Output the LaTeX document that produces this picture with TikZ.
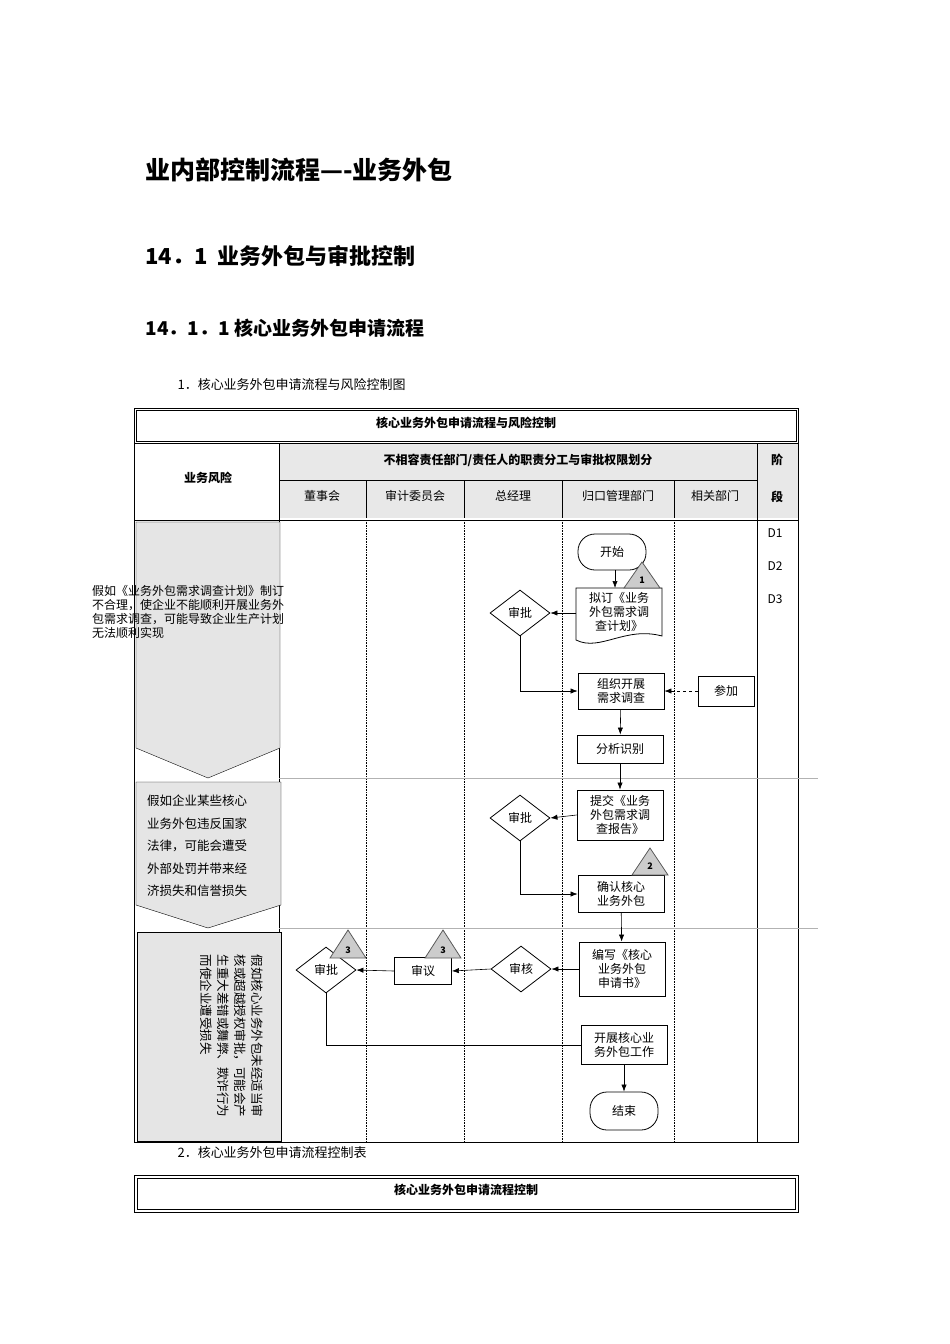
\documentclass[tikz,border=0pt]{standalone}
\usepackage{fontspec}
\setmainfont{Noto Sans CJK SC}
\usetikzlibrary{shapes.geometric,arrows.meta}
\begin{document}
\begin{tikzpicture}[x=1pt,y=-1pt,
  txt/.style={font=\fontsize{12}{14}\selectfont,align=center,inner sep=1pt},
  box/.style={draw,thick,txt,minimum width=86pt},
  dia/.style={draw,thick,diamond,aspect=1.3,inner sep=2pt,txt,minimum width=60pt,minimum height=46pt},
  term/.style={draw,thick,rounded corners=17pt,txt,minimum width=68pt,minimum height=36pt},
  arr/.style={-{Latex[length=7pt]},semithick},
  tri/.style={draw=gray!70!black,fill=gray!40,thick},
  hd/.style={font=\fontsize{12}{14}\selectfont\bfseries},
  dl/.style={densely dotted,semithick},
  gl/.style={gray!60,semithick}]
\useasboundingbox (0,0) rectangle (950,1344);
% headings
\node[anchor=west,font=\fontsize{25}{28}\selectfont\bfseries] (h1) at (142,170) {业内部控制流程—-业务外包};
\node[anchor=west,font=\fontsize{22}{26}\selectfont\bfseries] (h2) at (142,256) {14．1\ \ 业务外包与审批控制};
\node[anchor=west,font=\fontsize{19}{22}\selectfont\bfseries] (h3) at (142,328) {14．1．1 核心业务外包申请流程};
\node[anchor=west,font=\fontsize{13}{15}\selectfont] (c1) at (174,385) {1．核心业务外包申请流程与风险控制图};
\node[anchor=west,font=\fontsize{13}{15}\selectfont] (c2) at (174,1153) {2．核心业务外包申请流程控制表};
% table header
\fill[gray!18] (279,443) rectangle (757,518);
\fill[gray!18] (757,443) rectangle (798,518);
\draw[thick] (134,408) rectangle (798,1142);
\draw (136,410) rectangle (796,441);
\draw[thick] (134,443) -- (798,443);
\draw[thick] (134,520) -- (798,520);
\draw[thick] (279,443) -- (279,1142);
\draw[thick] (757,443) -- (757,1142);
\draw (279,480) -- (757,480);
\foreach \x in {366,464,562,674} {\draw (\x,480) -- (\x,518); \draw[dl] (\x,520) -- (\x,1142);}
\node[hd] (t0) at (466,423) {核心业务外包申请流程与风险控制};
\node[hd] (t1) at (208,478) {业务风险};
\node[hd] (t2) at (518,460) {不相容责任部门/责任人的职责分工与审批权限划分};
\node[hd] (t3) at (777,460) {阶};
\node[hd] (t4) at (777,497) {段};
\node[txt] (s1) at (322,496) {董事会};
\node[txt] (s2) at (415,496) {审计委员会};
\node[txt] (s3) at (513,496) {总经理};
\node[txt] (s4) at (618,496) {归口管理部门};
\node[txt] (s5) at (715,496) {相关部门};
\draw[gl] (279,778) -- (818,778);
\draw[gl] (279,928) -- (818,928);
\node[txt] (d1) at (775,533) {D1};
\node[txt] (d2) at (775,566) {D2};
\node[txt] (d3) at (775,599) {D3};
% risk shapes
\draw[fill=gray!20] (136,522) -- (280,522) -- (280,748) -- (208,778) -- (136,748) -- cycle;
\draw[fill=gray!20] (136,782) -- (281,782) -- (281,905) -- (208,928) -- (136,905) -- cycle;
\draw[fill=gray!20] (137,932) rectangle (281,1141);
\node[anchor=north west,font=\fontsize{12}{14}\selectfont,align=left,inner sep=0] (r1) at (92,585) {假如《业务外包需求调查计划》制订\\不合理，使企业不能顺利开展业务外\\包需求调查，可能导致企业生产计划\\无法顺利实现};
\node[anchor=north west,font=\fontsize{12.5}{22.5}\selectfont,align=left,inner sep=0] (r2) at (147,795) {假如企业某些核心\\业务外包违反国家\\法律，可能会遭受\\外部处罚并带来经\\济损失和信誉损失};
\node[rotate=-90,font=\fontsize{12.5}{17}\selectfont,align=left,inner sep=0] (r3) at (232,1036) {假如核心业务外包未经适当审\\核或超越授权审批，可能会产\\生重大差错或舞弊、欺诈行为\\而使企业遭受损失};
% flow
\node[term] (start) at (612,552) {开始};
\node[txt,minimum width=86pt,minimum height=52pt] (plan) at (619,612) {拟订《业务\\外包需求调\\查计划》};
\draw[thick] (576,588) -- (662,588) -- (662,636) .. controls (625,626) and (600,652) .. (576,640) -- cycle;
\draw[tri] (642,562) -- (660,588) -- (624,588) -- cycle;
\node[font=\bfseries\small] (n1) at (642,580) {1};
\node[dia] (ap1) at (520,613) {审批};
\node[box,minimum height=36pt] (org) at (621,691) {组织开展\\需求调查};
\node[draw,thick,txt,minimum width=56pt,minimum height=30pt] (join) at (726,691) {参加};
\node[box,minimum height=28pt] (ana) at (620,749) {分析识别};
\node[box,minimum height=50pt] (sub) at (620,815) {提交《业务\\外包需求调\\查报告》};
\node[dia] (ap2) at (520,818) {审批};
\node[box,minimum height=37pt] (conf) at (621,894) {确认核心\\业务外包};
\draw[tri] (650,848) -- (668,875) -- (632,875) -- cycle;
\node[font=\bfseries\small] (n2) at (650,866) {2};
\node[box,minimum height=54pt] (wr) at (622,969) {编写《核心\\业务外包\\申请书》};
\node[dia] (rv) at (521,969) {审核};
\node[draw,thick,txt,minimum width=57pt,minimum height=27pt] (dis) at (423,971) {审议};
\node[dia] (ap3) at (326,970) {审批};
\draw[tri] (348,930) -- (366,958) -- (330,958) -- cycle;
\node[font=\bfseries\small] (n3) at (348,950) {3};
\draw[tri] (443,930) -- (461,958) -- (425,958) -- cycle;
\node[font=\bfseries\small] (n4) at (443,950) {3};
\node[box,minimum height=39pt] (exe) at (624,1045) {开展核心业\\务外包工作};
\node[term,minimum height=38pt] (end) at (624,1111) {结束};
\draw[arr] (615,570) -- (615,588);
\draw[arr] (576,613) -- (ap1.east);
\draw[arr] (ap1.south) |- (org.west);
\draw[arr,dashed] (join.west) -- (org.east);
\draw[arr] (org) -- (ana);
\draw[arr] (ana) -- (sub);
\draw[arr] (sub.west) -- (ap2.east);
\draw[arr] (ap2.south) |- (conf.west);
\draw[arr] (conf) -- (wr);
\draw[arr] (wr.west) -- (rv.east);
\draw[arr] (rv.west) -- (dis.east);
\draw[arr] (dis.west) -- (ap3.east);
\draw[semithick] (ap3.south) |- (exe.west);
\draw[arr] (exe) -- (end);
% second table
\draw[thick] (134,1175) rectangle (798,1212);
\draw (137,1178) rectangle (795,1209);
\node[hd] (t5) at (466,1190) {核心业务外包申请流程控制};
\end{tikzpicture}
\end{document}
